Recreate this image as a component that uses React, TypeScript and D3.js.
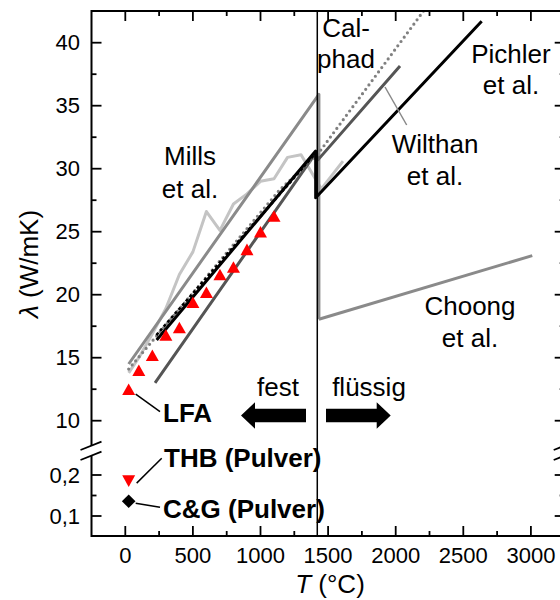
import React from 'react';
import * as d3 from 'd3';

// ---- axis ticks ----
const xTicksMajor = [0, 500, 1000, 1500, 2000, 2500, 3000];
const xTicksMinor = [250, 750, 1250, 1750, 2250, 2750];
const yTicksUpper = [10, 15, 20, 25, 30, 35, 40];
const yTicksUpperMinor = [12.5, 17.5, 22.5, 27.5, 32.5, 37.5];
const yTicksLower = [0.1, 0.2];
const yTickLabelsLower = ['0,1', '0,2'];
const yTicksLowerMinor = [0.15];

// ---- data (T in °C, lambda in W/mK) ----
const lfaT = [25, 100, 200, 300, 400, 500, 600, 700, 800, 900, 1000, 1100];
const lfaL = [12.5, 14.0, 15.2, 16.8, 17.4, 19.4, 20.2, 21.6, 22.2, 23.6, 25.0, 26.25];

const thbT = [25];
const thbL = [0.185];
const cgT = [25];
const cgL = [0.136];

const millsT = [25, 1432, 1432];
const millsL = [14.5, 35.9, 18.05];
const choongT = [1432, 3010];
const choongL = [18.05, 23.1];

const refT = [25, 100, 200, 300, 400, 500, 600, 700, 800, 900, 1000, 1100, 1200, 1300, 1450, 1610];
const refL = [13.8, 15.0, 16.9, 18.9, 21.6, 23.4, 26.6, 25.1, 27.2, 28.0, 29.0, 29.2, 30.9, 31.1, 28.4, 30.6];

const calphadT = [25, 450, 1140, 1420, 2260];
const calphadL = [14.1, 19.5, 28.3, 31.1, 43.3];

const dashedT = [230, 1405];
const dashedL = [16.8, 31.2];

const pichlerT = [232, 1408, 1408, 2636];
const pichlerL = [16.4, 31.4, 27.7, 41.7];

const wilthanT = [220, 1412, 1425, 2032];
const wilthanL = [13.0, 31.3, 30.7, 38.15];

const meltT = 1420;

const FONT = "'Liberation Sans', Arial, Helvetica, sans-serif";

const zip = (a: number[], b: number[]) => a.map((v, i) => [v, b[i]] as [number, number]);

export default function App() {
  const W = 560, H = 600;
  const left = 91.5, right = 564.7, top = 11, bottom = 536;
  const x = d3.scaleLinear().domain([-250, 3250]).range([left, right]);
  const yU = d3.scaleLinear().domain([10, 40]).range([420.7, 42.7]);
  const yL = d3.scaleLinear().domain([0.1, 0.2]).range([516, 475]);
  const breakY = 450;

  const line = d3.line<[number, number]>().x(d => x(d[0])).y(d => yU(d[1]));

  const tri = (cx: number, cy: number, up: boolean) => {
    const hw = 6.5, hh = 5.8;
    return up
      ? `M${cx},${cy - hh}L${cx + hw},${cy + hh}L${cx - hw},${cy + hh}Z`
      : `M${cx},${cy + hh}L${cx + hw},${cy - hh}L${cx - hw},${cy - hh}Z`;
  };
  const diamond = (cx: number, cy: number) => {
    const r = 6.8;
    return `M${cx},${cy - r}L${cx + r},${cy}L${cx},${cy + r}L${cx - r},${cy}Z`;
  };

  const arrow = (x0: number, x1: number, y: number) => {
    const dir = Math.sign(x1 - x0);
    const headLen = 14, sh = 6.7, hh = 13.3;
    const xb = x1 - dir * headLen;
    return `M${x0},${y - sh}L${xb},${y - sh}L${xb},${y - hh}L${x1},${y}L${xb},${y + hh}L${xb},${y + sh}L${x0},${y + sh}Z`;
  };

  return (
    <svg width={W} height={H} style={{ position: 'absolute', left: 0, top: 0, background: '#fff' }} fontFamily={FONT}>
      <defs>
        <clipPath id="plotclip">
          <rect x={left} y={top} width={right - left} height={breakY - top} />
        </clipPath>
      </defs>

      {/* data lines */}
      <g clipPath="url(#plotclip)" fill="none" strokeLinejoin="round">
        <path d={line(zip(refT, refL)) || ''} stroke="#c4c4c4" strokeWidth={3} />
        <path d={line(zip(millsT, millsL)) || ''} stroke="#8a8a8a" strokeWidth={3} />
        <path d={line(zip(choongT, choongL)) || ''} stroke="#8a8a8a" strokeWidth={3} />
        <path d={line(zip(wilthanT, wilthanL)) || ''} stroke="#555" strokeWidth={3} />
        <path d={line(zip(calphadT, calphadL)) || ''} stroke="#808080" strokeWidth={3.2} strokeDasharray="0 5.4" strokeLinecap="round" />
        <path d={line(zip(dashedT, dashedL)) || ''} stroke="#000" strokeWidth={2.6} strokeDasharray="3 2.6" />
        <path d={line(zip(pichlerT, pichlerL)) || ''} stroke="#000" strokeWidth={3} />
      </g>

      {/* melting line */}
      <line x1={x(meltT)} x2={x(meltT)} y1={top} y2={bottom} stroke="#000" strokeWidth={1.5} />

      {/* Wilthan leader */}
      <line x1={385} y1={87} x2={406.7} y2={125} stroke="#888" strokeWidth={1.5} />

      {/* markers */}
      {lfaT.map((t, i) => (
        <path key={'lfa' + i} d={tri(x(t), yU(lfaL[i]), true)} fill="#ff0000" />
      ))}
      {thbT.map((t, i) => (
        <path key={'thb' + i} d={tri(x(t), yL(thbL[i]), false)} fill="#ff0000" />
      ))}
      {cgT.map((t, i) => (
        <path key={'cg' + i} d={diamond(x(t), yL(cgL[i]))} fill="#000" />
      ))}

      {/* leader lines for marker labels */}
      <line x1={x(lfaT[0]) + 7} y1={yU(lfaL[0]) + 5} x2={160} y2={411.7} stroke="#000" strokeWidth={1.5} />
      <line x1={x(thbT[0]) + 8} y1={yL(thbL[0]) + 2} x2={161.7} y2={458.3} stroke="#000" strokeWidth={1.5} />
      <line x1={x(cgT[0]) + 7} y1={yL(cgL[0]) + 2} x2={160} y2={507.3} stroke="#000" strokeWidth={1.5} />

      {/* axes frame */}
      <g stroke="#000" strokeWidth={2} fill="none">
        <line x1={left} x2={right} y1={top} y2={top} />
        <line x1={left} x2={right} y1={bottom} y2={bottom} />
        <line x1={left} x2={left} y1={top - 1} y2={bottom + 1} />
        <line x1={right} x2={right} y1={top - 1} y2={bottom + 1} />
      </g>

      {/* ticks */}
      <g stroke="#000" strokeWidth={1.8}>
        {xTicksMajor.map(t => (
          <g key={'xM' + t}>
            <line x1={x(t)} x2={x(t)} y1={bottom} y2={bottom - 10} />
            <line x1={x(t)} x2={x(t)} y1={top} y2={top + 10} />
          </g>
        ))}
        {xTicksMinor.map(t => (
          <g key={'xm' + t}>
            <line x1={x(t)} x2={x(t)} y1={bottom} y2={bottom - 5} />
            <line x1={x(t)} x2={x(t)} y1={top} y2={top + 5} />
          </g>
        ))}
        {yTicksUpper.map(v => (
          <g key={'yM' + v}>
            <line x1={left} x2={left + 10} y1={yU(v)} y2={yU(v)} />
            <line x1={right} x2={right - 10} y1={yU(v)} y2={yU(v)} />
          </g>
        ))}
        {yTicksUpperMinor.map(v => (
          <g key={'ym' + v}>
            <line x1={left} x2={left + 5} y1={yU(v)} y2={yU(v)} />
            <line x1={right} x2={right - 5} y1={yU(v)} y2={yU(v)} />
          </g>
        ))}
        {yTicksLower.map(v => (
          <g key={'yLM' + v}>
            <line x1={left} x2={left + 10} y1={yL(v)} y2={yL(v)} />
            <line x1={right} x2={right - 10} y1={yL(v)} y2={yL(v)} />
          </g>
        ))}
        {yTicksLowerMinor.map(v => (
          <g key={'yLm' + v}>
            <line x1={left} x2={left + 5} y1={yL(v)} y2={yL(v)} />
            <line x1={right} x2={right - 5} y1={yL(v)} y2={yL(v)} />
          </g>
        ))}
      </g>

      {/* axis breaks */}
      {[left, right].map((ax, i) => (
        <g key={'brk' + i}>
          <path d={`M${ax - 11},${breakY}L${ax + 10},${breakY - 8.3}L${ax + 10},${breakY + 1.7}L${ax - 11},${breakY + 10}Z`} fill="#fff" />
          <line x1={ax - 11} y1={breakY} x2={ax + 10} y2={breakY - 8.3} stroke="#000" strokeWidth={1.8} />
          <line x1={ax - 11} y1={breakY + 10} x2={ax + 10} y2={breakY + 1.7} stroke="#000" strokeWidth={1.8} />
        </g>
      ))}

      {/* tick labels */}
      <g fontSize={22} fill="#000">
        {xTicksMajor.map(t => (
          <text key={'xl' + t} x={x(t)} y={563} textAnchor="middle">{t}</text>
        ))}
        {yTicksUpper.map(v => (
          <text key={'yl' + v} x={80} y={yU(v) + 7.7} textAnchor="end">{v}</text>
        ))}
        {yTicksLower.map((v, i) => (
          <text key={'yll' + v} x={80} y={yL(v) + 7.7} textAnchor="end">{yTickLabelsLower[i]}</text>
        ))}
      </g>

      {/* axis titles */}
      <text x={330} y={593} textAnchor="middle" fontSize={26}>
        <tspan fontStyle="italic">T</tspan> (°C)
      </text>
      <text transform="translate(38,264) rotate(-90)" textAnchor="middle" fontSize={26}>
        <tspan fontStyle="italic">λ</tspan> (W/mK)
      </text>

      {/* annotations */}
      <g fontSize={26} textAnchor="middle" fill="#000">
        <text x={190} y={165}>Mills</text>
        <text x={190} y={198}>et al.</text>
        <text x={346} y={36.7}>Cal-</text>
        <text x={346} y={68.3}>phad</text>
        <text x={511} y={63.3}>Pichler</text>
        <text x={511} y={94.3}>et al.</text>
        <text x={435} y={153.3}>Wilthan</text>
        <text x={435} y={185}>et al.</text>
        <text x={470} y={314.7}>Choong</text>
        <text x={470} y={346.7}>et al.</text>
        <text x={278} y={396}>fest</text>
        <text x={369} y={396}>flüssig</text>
      </g>
      <g fontSize={26} fontWeight="bold" fill="#000">
        <text x={163} y={421.5}>LFA</text>
        <text x={164} y={467.3}>THB (Pulver)</text>
        <text x={163} y={518.3}>C&amp;G (Pulver)</text>
      </g>

      {/* arrows */}
      <path d={arrow(306, 241, 415.5)} fill="#000" />
      <path d={arrow(326, 390.7, 415.5)} fill="#000" />
    </svg>
  );
}
